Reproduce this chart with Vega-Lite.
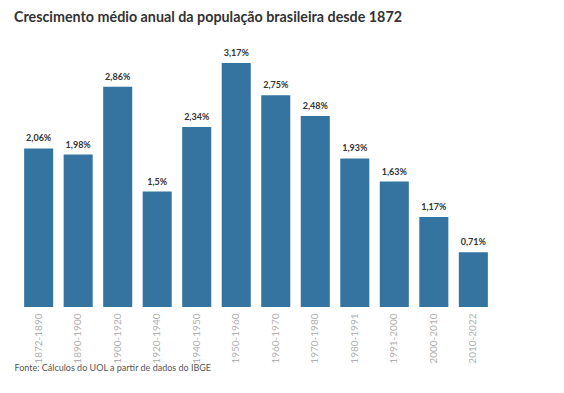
{
  "$schema": "https://vega.github.io/schema/vega-lite/v6.json",
  "autosize": "none",
  "width": 474,
  "height": 244,
  "padding": {"left": 19, "top": 63, "right": 71, "bottom": 86},
  "background": "white",
  "title": {
    "text": "Crescimento médio anual da população brasileira desde 1872",
    "anchor": "start",
    "frame": "group",
    "dx": -5,
    "offset": 24,
    "font": "Lato",
    "fontSize": 14.3,
    "fontWeight": "bold",
    "color": "#333333"
  },
  "data": {
    "values": [
      {"periodo": "1872-1890", "valor": 2.06, "rotulo": "2,06%"},
      {"periodo": "1890-1900", "valor": 1.98, "rotulo": "1,98%"},
      {"periodo": "1900-1920", "valor": 2.86, "rotulo": "2,86%"},
      {"periodo": "1920-1940", "valor": 1.5, "rotulo": "1,5%"},
      {"periodo": "1940-1950", "valor": 2.34, "rotulo": "2,34%"},
      {"periodo": "1950-1960", "valor": 3.17, "rotulo": "3,17%"},
      {"periodo": "1960-1970", "valor": 2.75, "rotulo": "2,75%"},
      {"periodo": "1970-1980", "valor": 2.48, "rotulo": "2,48%"},
      {"periodo": "1980-1991", "valor": 1.93, "rotulo": "1,93%"},
      {"periodo": "1991-2000", "valor": 1.63, "rotulo": "1,63%"},
      {"periodo": "2000-2010", "valor": 1.17, "rotulo": "1,17%"},
      {"periodo": "2010-2022", "valor": 0.71, "rotulo": "0,71%"}
    ]
  },
  "encoding": {
    "x": {
      "field": "periodo",
      "type": "nominal",
      "sort": null,
      "scale": {"paddingInner": 0.265, "paddingOuter": 0.13},
      "axis": {
        "title": "Fonte: Cálculos do UOL a partir de dados do IBGE",
        "titleAnchor": "start",
        "titleAlign": "left",
        "titleX": -5,
        "titleY": 56,
        "titleFont": "Lato",
        "titleFontSize": 9,
        "titleFontWeight": "normal",
        "titleColor": "#555555",
        "labelAngle": 270,
        "labelFont": "Lato",
        "labelFontSize": 10,
        "labelColor": "#b0b0b0",
        "labelPadding": 6,
        "ticks": false,
        "domain": false
      }
    },
    "y": {
      "field": "valor",
      "type": "quantitative",
      "scale": {"domain": [0, 3.17], "nice": false},
      "axis": null
    }
  },
  "layer": [
    {"mark": {"type": "bar", "color": "#3574a0"}},
    {
      "mark": {"type": "text", "baseline": "bottom", "dy": -5, "font": "Lato", "fontSize": 9, "fontWeight": "bold", "color": "#333333"},
      "encoding": {"text": {"field": "rotulo"}}
    }
  ],
  "config": {"view": {"stroke": null}}
}
